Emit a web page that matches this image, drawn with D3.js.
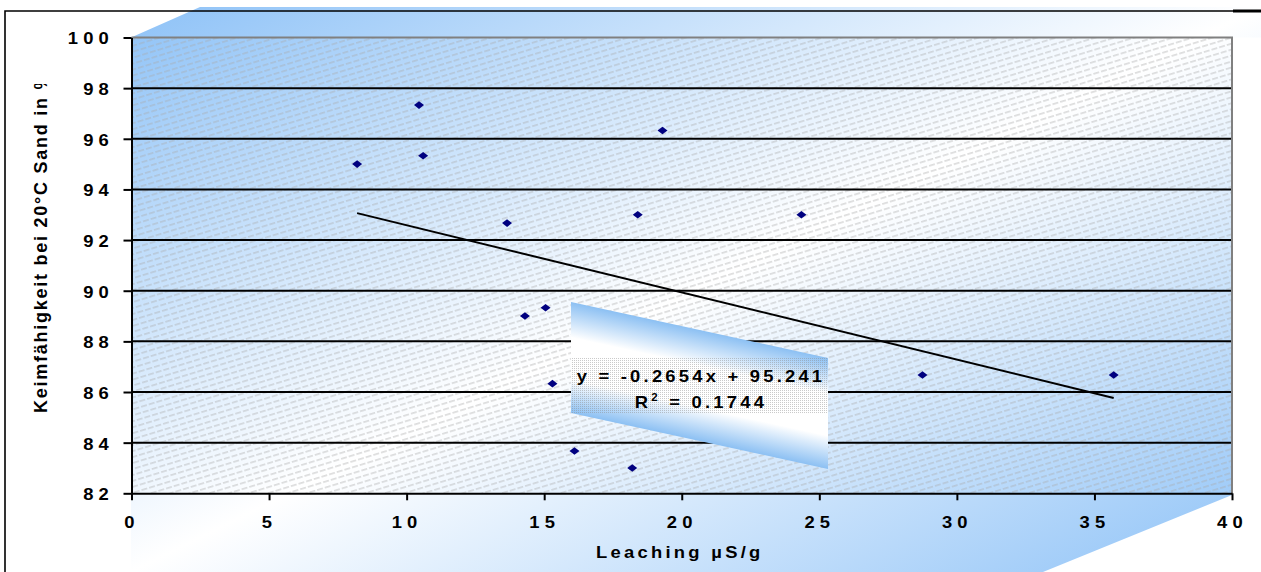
<!DOCTYPE html>
<html>
<head>
<meta charset="utf-8">
<script src="https://cdn.jsdelivr.net/npm/d3@7"></script>
<style>
  body { margin: 0; background: #fff; }
  svg { display: block; }
  text { font-family: "Liberation Sans", Arial, sans-serif; font-weight: bold; fill: #000; }
</style>
</head>
<body>
<svg id="chart" width="1261" height="572"></svg>
<script>
// Leaching conductivity (µS/g) and germination in sand at 20 °C (%)
const leaching = [8.2, 10.45, 10.6, 13.65, 14.3, 15.05, 15.3, 16.1, 18.2, 18.4, 19.3, 24.35, 28.75, 35.7];
const germination = [95.0, 97.33, 95.33, 92.67, 89.0, 89.33, 86.33, 83.67, 83.0, 93.0, 96.33, 93.0, 86.67, 86.67];

const xTicks = [0, 5, 10, 15, 20, 25, 30, 35, 40];
const yTicks = [82, 84, 86, 88, 90, 92, 94, 96, 98, 100];

// Linear trend line reported by the chart
const trendSlope = -0.2654;
const trendIntercept = 95.241;
const trendR2 = 0.1744;

const xTitle = "Leaching µS/g";
const yTitle = "Keimfähigkeit bei 20°C Sand in %";

const W = 1261, H = 572;
const plot = { left: 131.5, right: 1232, top: 37.5, bottom: 493.3 };
const SX = 1.15; // slight horizontal stretch of the chart lettering

const svg = d3.select("#chart");
const defs = svg.append("defs");

// Diagonal blue-white-blue backdrop gradient
const bg = defs.append("linearGradient").attr("id", "bgGrad")
  .attr("x1", 0).attr("y1", 0).attr("x2", 1).attr("y2", 1);
bg.append("stop").attr("offset", "0%").attr("stop-color", "#8ec2f7");
bg.append("stop").attr("offset", "50%").attr("stop-color", "#ffffff");
bg.append("stop").attr("offset", "100%").attr("stop-color", "#8ec2f7");

// Dashed diagonal hatch for the plot area
const hatch = defs.append("pattern").attr("id", "hatch")
  .attr("patternUnits", "userSpaceOnUse")
  .attr("width", 16).attr("height", 5.7)
  .attr("patternTransform", "rotate(-17)");
hatch.append("line").attr("x1", 0).attr("y1", 2.8).attr("x2", 16).attr("y2", 2.8)
  .attr("stroke", "#a8a8a8").attr("stroke-width", 0.7).attr("stroke-dasharray", "6,2");

// Label box gradient and dotted texture
const lg = defs.append("linearGradient").attr("id", "labelGrad")
  .attr("x1", 0).attr("y1", 0).attr("x2", 0).attr("y2", 1);
lg.append("stop").attr("offset", "0%").attr("stop-color", "#8cc0f3");
lg.append("stop").attr("offset", "32%").attr("stop-color", "#ffffff");
lg.append("stop").attr("offset", "70%").attr("stop-color", "#ffffff");
lg.append("stop").attr("offset", "100%").attr("stop-color", "#8cc0f3");

const dots = defs.append("pattern").attr("id", "dots")
  .attr("patternUnits", "userSpaceOnUse").attr("width", 2).attr("height", 2);
dots.append("rect").attr("width", 1).attr("height", 1).attr("fill", "#8a8a8a").attr("opacity", 0.45);

defs.append("clipPath").attr("id", "yTitleClip")
  .append("rect").attr("x", 0).attr("y", 84).attr("width", 130).attr("height", 480);

// Backdrop shape
const backdrop = [
  [plot.left - 0.5, plot.top], [200, 7], [W, 7], [W, plot.top],
  [plot.right, plot.top], [plot.right, 495], [1043, H], [plot.left - 0.5, H]
];
svg.append("path").attr("d", d3.line()(backdrop) + "Z").attr("fill", "url(#bgGrad)");

// Scales
const x = d3.scaleLinear().domain([0, 40]).range([plot.left, plot.right]);
const y = d3.scaleLinear().domain([82, 100]).range([plot.bottom, plot.top]);

// Plot area hatch
svg.append("rect")
  .attr("x", plot.left).attr("y", plot.top)
  .attr("width", plot.right - plot.left).attr("height", plot.bottom - plot.top)
  .attr("fill", "url(#hatch)");

// Gridlines
svg.append("g").selectAll("line")
  .data(yTicks.filter(v => v > 82 && v < 100))
  .join("line")
  .attr("x1", plot.left).attr("x2", plot.right)
  .attr("y1", d => y(d)).attr("y2", d => y(d))
  .attr("stroke", "#000").attr("stroke-width", 2);

// Plot area top/right border
svg.append("path")
  .attr("d", `M${plot.left},${plot.top}H${plot.right}V${plot.bottom}`)
  .attr("fill", "none").attr("stroke", "#808080").attr("stroke-width", 2);

// Outer chart frame
svg.append("path").attr("d", `M5,${H + 2}V11H${W + 2}`)
  .attr("fill", "none").attr("stroke", "#000").attr("stroke-width", 1.6);
svg.append("line").attr("x1", 1233).attr("x2", W).attr("y1", 11).attr("y2", 11)
  .attr("stroke", "#000").attr("stroke-width", 3);

// Place text at (tx, ty) with the slight horizontal stretch
function wide(sel, tx, ty) {
  sel.attr("x", 0).attr("y", 0)
    .attr("transform", `translate(${tx},${ty}) scale(${SX},1)`);
  return sel;
}

// Axes
const yAxis = svg.append("g").attr("transform", `translate(${plot.left},0)`)
  .call(d3.axisLeft(y).tickValues(yTicks).tickSize(8).tickSizeOuter(0));
const xAxis = svg.append("g").attr("transform", `translate(0,${plot.bottom})`)
  .call(d3.axisBottom(x).tickValues(xTicks).tickSize(7).tickSizeOuter(0));

[yAxis, xAxis].forEach(g => {
  g.attr("font-size", null).attr("font-family", null);
  g.select(".domain").attr("stroke", "#000").attr("stroke-width", 2);
  g.selectAll(".tick line").attr("stroke", "#000").attr("stroke-width", 2);
  g.selectAll(".tick text")
    .style("font-size", "16px").style("letter-spacing", "4.5px").attr("fill", "#000");
});
yAxis.selectAll(".tick text").each(function () {
  wide(d3.select(this), -17.5, 0).attr("dy", "0.4em");
});
xAxis.selectAll(".tick text").each(function () {
  wide(d3.select(this), 0, 35).attr("dy", 0);
});

// Axis titles
wide(svg.append("text"), (plot.left + plot.right) / 2 - 2, 558)
  .attr("text-anchor", "middle")
  .style("font-size", "16px").style("letter-spacing", "2.85px")
  .text(xTitle);

svg.append("g").attr("clip-path", "url(#yTitleClip)")
  .append("text")
  .attr("transform", "translate(47,413) rotate(-90)")
  .attr("text-anchor", "start")
  .style("font-size", "18px").style("letter-spacing", "1.75px")
  .text(yTitle);

// Trend line over the data range
const xr = d3.extent(leaching);
svg.append("line")
  .attr("x1", x(xr[0])).attr("y1", y(trendSlope * xr[0] + trendIntercept))
  .attr("x2", x(xr[1])).attr("y2", y(trendSlope * xr[1] + trendIntercept))
  .attr("stroke", "#000").attr("stroke-width", 2);

// Data points (diamond markers)
const diamond = "M0,-3.8L5,0L0,3.8L-5,0Z";
svg.append("g").selectAll("path")
  .data(leaching.map((v, i) => [v, germination[i]]))
  .join("path")
  .attr("d", diamond)
  .attr("transform", d => `translate(${x(d[0])},${y(d[1])})`)
  .attr("fill", "#000080");

// Regression label box
const boxW = 257, boxH = 111, boxX = 571, boxY = 302, skew = Math.atan(56 / 257) * 180 / Math.PI;
svg.append("rect")
  .attr("transform", `translate(${boxX},${boxY}) skewY(${skew})`)
  .attr("width", boxW).attr("height", boxH)
  .attr("fill", "url(#labelGrad)");
svg.append("rect")
  .attr("x", boxX).attr("y", 358).attr("width", boxW).attr("height", 55)
  .attr("fill", "url(#dots)");

const cx = boxX + boxW / 2 + 1.5;
wide(svg.append("text"), cx, 382).attr("text-anchor", "middle")
  .style("font-size", "16px").style("letter-spacing", "2.8px")
  .text(`y = ${trendSlope}x + ${trendIntercept}`);
const r2 = wide(svg.append("text"), cx, 408).attr("text-anchor", "middle")
  .style("font-size", "16px").style("letter-spacing", "2.8px");
r2.append("tspan").text("R");
r2.append("tspan").attr("dy", -7).style("font-size", "10px").text("2");
r2.append("tspan").attr("dy", 7).text(` = ${trendR2}`);
</script>
</body>
</html>
